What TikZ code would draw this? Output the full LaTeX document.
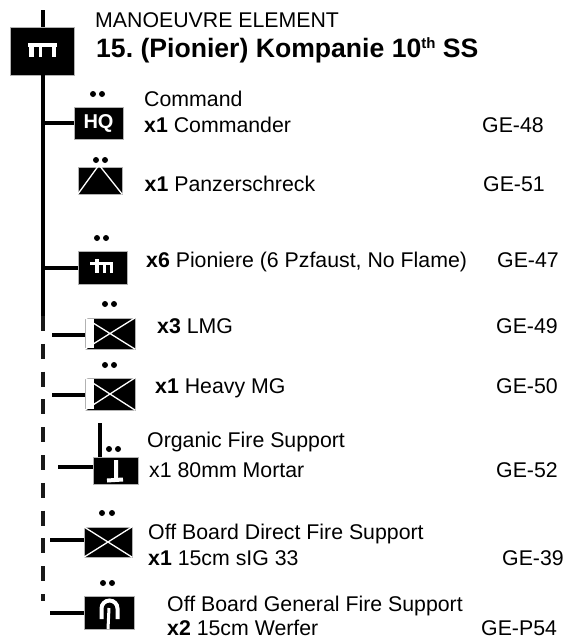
\documentclass[tikz,border=0pt]{standalone}
\usepackage{fontspec}
\setmainfont{Liberation Sans}
\usetikzlibrary{positioning}
\tikzset{
  unitbox/.style={fill=black,draw=gray!60,line width=0.5pt,inner sep=0pt,minimum width=#1},
  lab/.style={anchor=base west,inner sep=0pt,font=\fontsize{21.3}{24}\selectfont},
  trunkline/.style={line width=4.3pt,black},
  linkline/.style={line width=4pt,black},
  whiteline/.style={white,line width=1.3pt},
  glyphline/.style={white,line width=4pt},
  rankdot/.style={circle,fill=black,inner sep=0pt,minimum size=6pt}
}
\begin{document}
\frenchspacing
\begin{tikzpicture}[x=1pt,y=-1pt]
  \useasboundingbox (0,0) rectangle (566,643);
  % trunk
  \coordinate (top) at (43.2,10);
  \coordinate (mid) at (43.2,316);
  \coordinate (low) at (43.2,601);
  \node[unitbox=64pt,minimum height=48pt] (coy) at (42,51) {};
  \draw[trunkline] (top) -- (coy.north -| top);
  \draw[trunkline] (coy.south -| top) -- (mid);
  \draw[trunkline,dash pattern=on 15pt off 12.8pt,gray!20!black] (mid) -- (low);
  \draw[glyphline] (28,45) -- (57,45);
  \draw[white,line width=4.5pt] (31.5,45) -- (31.5,57);
  \draw[white,line width=3pt] (40.5,45) -- (40.5,57);
  \draw[white,line width=4pt] (54,45) -- (54,57);
  % boxes
  \node[unitbox=49pt,minimum height=32pt,text=white,font=\bfseries\fontsize{20}{20}\selectfont] (hq) at (98.5,123) {HQ};
  \node[unitbox=44pt,minimum height=27pt] (schreck) at (100,180.5) {};
  \node[unitbox=49pt,minimum height=33pt] (pio) at (102.5,268) {};
  \node[unitbox=50pt,minimum height=31pt] (lmg) at (110,333.5) {};
  \node[unitbox=50pt,minimum height=32pt] (hmg) at (110,394) {};
  \node[unitbox=45pt,minimum height=27pt] (mortar) at (115.5,470.5) {};
  \node[unitbox=48pt,minimum height=30pt] (direct) at (108,542) {};
  \node[unitbox=50pt,minimum height=33pt] (general) at (109,612.5) {};
  % free ends
  \coordinate (lmgend) at (52,335);
  \coordinate (hmgend) at (52,395);
  \coordinate (mortend) at (58,467);
  \coordinate (mortup) at (99.5,423);
  \coordinate (dirend) at (50,540);
  \coordinate (genend) at (50,613);
  \draw[linkline] (top |- hq) -- (hq);
  \draw[linkline] (top |- pio) -- (pio);
  \draw[linkline] (lmgend) -- (lmgend -| lmg.west);
  \draw[linkline] (hmgend) -- (hmgend -| hmg.west);
  \draw[linkline] (mortend) -- (mortend -| mortar.west);
  \draw[linkline] (mortup) -- (mortup |- mortar.north);
  \draw[linkline] (dirend) -- (dirend -| direct.west);
  \draw[linkline] (genend) -- (genend -| general.west);
  % rank dots
  \foreach \x/\y in {93/94,102/94,96/160,105/160,97/238,106/238,105/304,114/304,105/365,114/365,109/449,118/449,102/513,112/513,103/583,112/583} {
    \node[rankdot] at (\x,\y) {};
  }
  % symbols
  \draw[whiteline] (schreck.south west) -- (99,165) -- (schreck.south east);
  \draw[white,line width=3pt] (90,263.5) -- (113,263.5);
  \draw[white,line width=4pt] (97,259) -- (97,273);
  \draw[white,line width=3pt] (104,263) -- (104,273) (111.5,263) -- (111.5,273);
  \foreach \b in {lmg,hmg} {
    \fill[white] ([shift={(1,1)}]\b.north west) rectangle ([shift={(9,-1)}]\b.south west);
    \draw[whiteline] (\b.north west) -- (\b.south east) (\b.south west) -- (\b.north east);
  }
  \draw[whiteline] (direct.north west) -- (direct.south east) (direct.south west) -- (direct.north east);
  \draw[glyphline] (116,460) -- (116,480) (107,480.5) -- (123,479.5);
  \draw[glyphline] (101.5,619) -- (101.5,608.5) arc (180:360:8) -- (117.5,619);
  \draw[white,line width=3pt] (109,608) -- (108,629);
  % text
  \node[lab] (t1) at (95,27) {MANOEUVRE ELEMENT};
  \node[lab,font=\bfseries\fontsize{26.6}{28}\selectfont] (t2) at (96,57) {15. (Pionier) Kompanie 10\raisebox{9pt}{\fontsize{15}{15}\selectfont th} SS};
  \node[lab] (t3) at (144,106) {Command};
  \node[lab] (t4) at (144,132) {\textbf{x1} Commander};
  \node[lab] (g1) at (482,132) {GE-48};
  \node[lab] (t5) at (144.5,191) {\textbf{x1} Panzerschreck};
  \node[lab] (g2) at (483,191) {GE-51};
  \node[lab] (t6) at (146,267) {\textbf{x6} Pioniere (6 Pzfaust, No Flame)};
  \node[lab] (g3) at (497,267) {GE-47};
  \node[lab] (t7) at (157,333) {\textbf{x3} LMG};
  \node[lab] (g4) at (496,333) {GE-49};
  \node[lab] (t8) at (155,393) {\textbf{x1} Heavy MG};
  \node[lab] (g5) at (496,393) {GE-50};
  \node[lab] (t9) at (147,447) {Organic Fire Support};
  \node[lab] (t10) at (149,477) {x1 80mm Mortar};
  \node[lab] (g6) at (496,477) {GE-52};
  \node[lab] (t11) at (148,539) {Off Board Direct Fire Support};
  \node[lab] (t12) at (148,565) {\textbf{x1} 15cm sIG 33};
  \node[lab] (g7) at (502,565) {GE-39};
  \node[lab] (t13) at (167,611) {Off Board General Fire Support};
  \node[lab] (t14) at (167,635) {\textbf{x2} 15cm Werfer};
  \node[lab] (g8) at (481,635) {GE-P54};
\end{tikzpicture}
\end{document}
